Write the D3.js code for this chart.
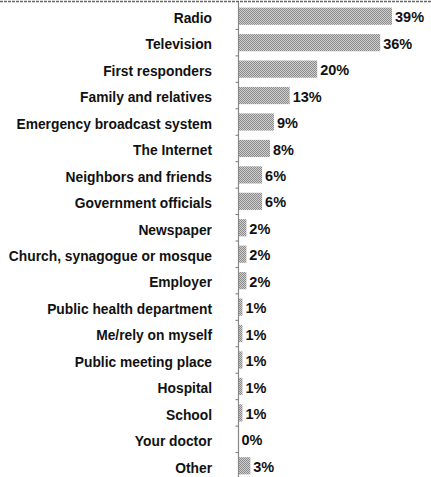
<!DOCTYPE html>
<html><head><meta charset="utf-8">
<script src="https://cdn.jsdelivr.net/npm/d3@7"></script>
<style>body{margin:0;background:#fff}svg{display:block}</style>
</head><body>
<script>
const categories = ["Radio","Television","First responders","Family and relatives","Emergency broadcast system","The Internet","Neighbors and friends","Government officials","Newspaper","Church, synagogue or mosque","Employer","Public health department","Me/rely on myself","Public meeting place","Hospital","School","Your doctor","Other"];
const values = [39,36,20,13,9,8,6,6,2,2,2,1,1,1,1,1,0,3];

const W = 431, H = 477;
const svg = d3.select("body").append("svg").attr("width", W).attr("height", H);

const defs = svg.append("defs");
const pat = defs.append("pattern").attr("id","dither").attr("patternUnits","userSpaceOnUse").attr("width",2).attr("height",2);
pat.append("rect").attr("width",2).attr("height",2).attr("fill","#d0d0d0");
pat.append("rect").attr("width",1).attr("height",1).attr("fill","#8a8a8a");
pat.append("rect").attr("x",1).attr("y",1).attr("width",1).attr("height",1).attr("fill","#8a8a8a");

const x0 = 238.5;
const x = d3.scaleLinear().domain([0, 39]).range([x0, 392]);
const y = d3.scaleBand().domain(categories).range([3, 479]).paddingInner(0.35).paddingOuter(0.175);

// top border line
svg.append("line").attr("x1",0).attr("x2",W).attr("y1",1.5).attr("y2",1.5)
  .attr("stroke","#666").attr("stroke-width",1.5).attr("stroke-dasharray","3,1");

// bars
svg.selectAll("rect.bar").data(categories).join("rect").attr("class","bar")
  .attr("x", x0).attr("y", d => y(d))
  .attr("width", (d,i) => x(values[i]) - x0)
  .attr("height", y.bandwidth())
  .attr("fill","url(#dither)");

// axis line
svg.append("line").attr("x1",x0).attr("x2",x0).attr("y1",2).attr("y2",H)
  .attr("stroke","#888").attr("stroke-width",1.2);

// ticks between bands
const step = y.step();
svg.selectAll("line.tick").data(categories.slice(1)).join("line").attr("class","tick")
  .attr("x1", x0-3).attr("x2", x0)
  .attr("y1", d => y(d) - step*y.paddingInner()/2)
  .attr("y2", d => y(d) - step*y.paddingInner()/2)
  .attr("stroke","#777");

// category labels
svg.selectAll("text.cat").data(categories).join("text").attr("class","cat")
  .attr("x", 212).attr("y", d => y(d) + y.bandwidth()/2 + 2)
  .attr("dy","0.35em").attr("text-anchor","end")
  .attr("font-family","Liberation Sans, Arial, sans-serif").attr("font-weight","bold")
  .attr("font-size","13.8px").attr("fill","#111")
  .text(d => d);

// value labels
svg.selectAll("text.val").data(categories).join("text").attr("class","val")
  .attr("x", (d,i) => x(values[i]) + 3).attr("y", d => y(d) + y.bandwidth()/2 + 1)
  .attr("dy","0.35em")
  .attr("font-family","Liberation Sans, Arial, sans-serif").attr("font-weight","bold")
  .attr("font-size","14.5px").attr("fill","#111")
  .text((d,i) => values[i] + "%");
</script>
</body></html>
